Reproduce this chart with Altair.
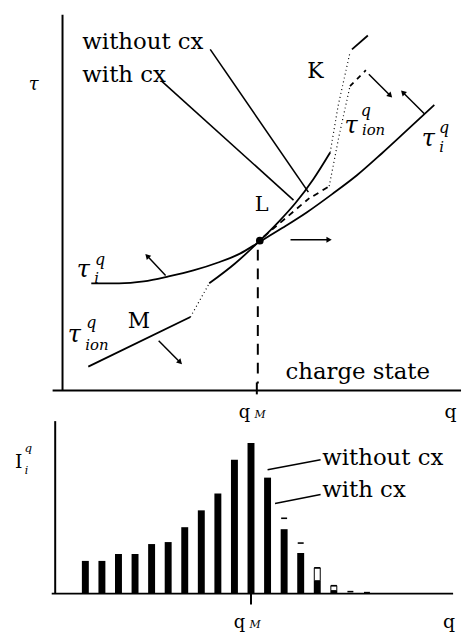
import altair as alt
import pandas as pd
import numpy as np

FONT = "DejaVu Serif"

# ---------------- top panel: schematic (charge state -> right, tau -> up) ----------------
# axes of the schematic
axis_y_x = [63, 63];     axis_y_y = [8, 387]
axis_x_x = [53, 465];    axis_x_y = [387, 387]
tick_x = [259, 259];     tick_y = [379, 391]
qm_line_x = [260, 260];  qm_line_y = [245, 380]

# tau_i^q curve
tau_i_x = [92, 120, 145, 170, 195, 220, 242, 262, 285, 310, 335, 360, 385, 410, 438]
tau_i_y = [279, 279, 277, 272, 266, 258, 249, 237, 223, 207, 189, 170, 148, 125, 99]

# tau_ion^q with cx (solid pieces + dotted joins)
ion_M_x = [89, 192];    ion_M_y = [363, 313]
ion_cx_x = [211, 237, 262, 280, 298, 316, 333]
ion_cx_y = [279, 259, 236, 218, 198, 174, 147]
ion_K_x = [355, 371];   ion_K_y = [43, 29]
dot1_x = [192, 211];    dot1_y = [313, 279]
dot2_x = [333, 341, 353]; dot2_y = [147, 100, 46]

# tau_ion^q without cx (dashed pieces + dotted join)
wo1_x = [266, 312];     wo1_y = [232, 193]
wo2_x = [316, 332];     wo2_y = [191, 181]
wo3_x = [353, 369];     wo3_y = [80, 64]
dot3_x = [332, 342, 353]; dot3_y = [181, 130, 80]

# leader lines
lead_wo_x = [212, 311]; lead_wo_y = [43, 187]
lead_w_x = [163, 296];  lead_w_y = [75, 195]

# arrows (start -> end)
arr_x0 = [372, 428, 293, 167, 160]
arr_y0 = [68, 108, 235, 271, 337]
arr_x1 = [393, 407, 331, 149, 181]
arr_y1 = [89, 87, 235, 252, 358]

# point L
L_x = [262]; L_y = [236]

# ---------------- bottom panel: intensity distribution ----------------
q_states = list(range(1, 19))
with_cx = [33, 33, 40, 40, 50, 52, 67, 84, 101, 135, 152, 117, 65, 41, 13, 3, 0, 0]
without_cx = [33, 33, 40, 40, 50, 52, 67, 84, 101, 135, 152, 117, 76, 51, 26, 8, 2, 1]
q_M = 11

b_axis_y_q = [-0.82, -0.82]; b_axis_y_v = [0, 174]
b_axis_x_q = [-1.03, 23.2];  b_axis_x_v = [0, 0]
b_tick_q = [q_M, q_M];       b_tick_v = [0, -11]
b_lead_wo_q = [12.0, 15.2];  b_lead_wo_v = [125, 135]
b_lead_w_q = [12.45, 15.2];  b_lead_w_v = [91, 100]

# ---------------- encodings ----------------
TX = alt.X("x:Q", scale=alt.Scale(domain=[8, 465], nice=False, zero=False), axis=None)
TY = alt.Y("y:Q", scale=alt.Scale(domain=[8, 400], reverse=True, nice=False, zero=False), axis=None)
BXs = alt.Scale(domain=[-3.37, 23.38], nice=False, zero=False)
BYs = alt.Scale(domain=[-40, 187], nice=False, zero=False)


def tline(xs, ys, width=1.8, dash=None, interp="linear"):
    df = pd.DataFrame({"x": xs, "y": ys, "o": range(len(xs))})
    kw = dict(color="black", strokeWidth=width, interpolate=interp, strokeCap="butt")
    if dash:
        kw["strokeDash"] = dash
    return alt.Chart(df).mark_line(**kw).encode(x=TX, y=TY, order="o:Q")


def bline(qs, vs, width=1.8):
    df = pd.DataFrame({"q": qs, "v": vs, "o": range(len(qs))})
    return alt.Chart(df).mark_line(color="black", strokeWidth=width, strokeCap="butt").encode(
        x=alt.X("q:Q", scale=BXs, axis=None), y=alt.Y("v:Q", scale=BYs, axis=None), order="o:Q")


def ttext(label, x, y, size, italic=False, align="center"):
    df = pd.DataFrame({"x": [x], "y": [y], "t": [label]})
    kw = dict(font=FONT, fontSize=size, align=align, baseline="alphabetic", color="black")
    if italic:
        kw["fontStyle"] = "italic"
    return alt.Chart(df).mark_text(**kw).encode(x=TX, y=TY, text="t:N")


def btext(label, q, v, size, italic=False, align="center"):
    df = pd.DataFrame({"q": [q], "v": [v], "t": [label]})
    kw = dict(font=FONT, fontSize=size, align=align, baseline="alphabetic", color="black")
    if italic:
        kw["fontStyle"] = "italic"
    return alt.Chart(df).mark_text(**kw).encode(
        x=alt.X("q:Q", scale=BXs, axis=None), y=alt.Y("v:Q", scale=BYs, axis=None), text="t:N")


top_layers = [
    tline(axis_y_x, axis_y_y, 2),
    tline(axis_x_x, axis_x_y, 2),
    tline(tick_x, tick_y, 2),
    tline(qm_line_x, qm_line_y, 2, dash=[11, 8]),
    tline(tau_i_x, tau_i_y, 1.8, interp="monotone"),
    tline(ion_M_x, ion_M_y, 1.8),
    tline(ion_cx_x, ion_cx_y, 1.8, interp="monotone"),
    tline(ion_K_x, ion_K_y, 1.8),
    tline(dot1_x, dot1_y, 1.2, dash=[1, 3]),
    tline(dot2_x, dot2_y, 1.2, dash=[1, 3]),
    tline(dot3_x, dot3_y, 1.2, dash=[1, 3]),
    tline(wo1_x, wo1_y, 1.8, dash=[6, 5]),
    tline(wo2_x, wo2_y, 1.8, dash=[6, 5]),
    tline(wo3_x, wo3_y, 1.8, dash=[5, 5]),
    tline(lead_wo_x, lead_wo_y, 1.6),
    tline(lead_w_x, lead_w_y, 1.6),
]
for i in range(len(arr_x0)):
    top_layers.append(tline([arr_x0[i], arr_x1[i]], [arr_y0[i], arr_y1[i]], 1.5))

dx = np.array(arr_x1) - np.array(arr_x0)
dy = np.array(arr_y1) - np.array(arr_y0)
ang = (np.degrees(np.arctan2(dx, -dy)) + 360) % 360
heads = pd.DataFrame({"x": arr_x1, "y": arr_y1, "a": ang})
top_layers.append(alt.Chart(heads).mark_point(shape="triangle", filled=True, color="black",
                                              size=38, opacity=1).encode(
    x=TX, y=TY, angle=alt.Angle("a:Q", scale=None)))
top_layers.append(alt.Chart(pd.DataFrame({"x": L_x, "y": L_y})).mark_point(
    shape="circle", filled=True, color="black", size=60, opacity=1).encode(x=TX, y=TY))

top_layers += [
    ttext("without cx", 83, 43, 23, align="left"),
    ttext("with cx", 83, 76, 23, align="left"),
    ttext("K", 318, 72, 22),
    ttext("L", 264, 206, 21),
    ttext("M", 140, 324, 22),
    ttext("charge state", 288, 375, 23, align="left"),
    ttext("τ", 34, 84, 18, italic=True),
    # tau_ion^q upper right
    ttext("τ", 354, 127, 24, italic=True),
    ttext("q", 369, 110, 16, italic=True),
    ttext("ion", 365, 129, 15, italic=True, align="left"),
    # tau_i^q right
    ttext("τ", 432, 140, 24, italic=True),
    ttext("q", 448, 127, 16, italic=True),
    ttext("i", 443, 147, 15, italic=True, align="left"),
    # tau_i^q left
    ttext("τ", 84, 273, 24, italic=True),
    ttext("q", 101, 261, 16, italic=True),
    ttext("i", 95, 279, 15, italic=True, align="left"),
    # tau_ion^q lower left
    ttext("τ", 75, 338, 24, italic=True),
    ttext("q", 92, 324, 16, italic=True),
    ttext("ion", 86, 346, 15, italic=True, align="left"),
]

top = alt.layer(*top_layers).properties(width=457, height=392)

# bottom panel
bars = pd.DataFrame({"q": q_states, "w": with_cx, "wo": without_cx, "base": 0})
BXq = alt.X("q:Q", scale=BXs, axis=None)
bottom_layers = [
    bline(b_axis_y_q, b_axis_y_v, 2),
    bline(b_axis_x_q, b_axis_x_v, 2),
    bline(b_tick_q, b_tick_v, 2),
    alt.Chart(bars).transform_filter("datum.w > 0").mark_bar(size=7, color="black").encode(
        x=BXq, y=alt.Y("w:Q", scale=BYs, axis=None), y2="base:Q"),
    alt.Chart(bars).transform_filter("datum.q >= 15 && datum.wo > datum.w + 4").mark_bar(
        size=6, fill="white", fillOpacity=0, stroke="black", strokeWidth=1).encode(
        x=BXq, y=alt.Y("wo:Q", scale=BYs, axis=None), y2="w:Q"),
    alt.Chart(bars).transform_filter("datum.wo > datum.w").mark_tick(
        orient="horizontal", size=6, thickness=1.6, color="black", opacity=1).encode(
        x=BXq, y=alt.Y("wo:Q", scale=BYs, axis=None)),
    bline(b_lead_wo_q, b_lead_wo_v, 1.5),
    bline(b_lead_w_q, b_lead_w_v, 1.5),
    btext("without cx", 15.3, 130, 23, align="left"),
    btext("with cx", 15.3, 97, 23, align="left"),
    btext("I", -3.02, 127, 19),
    btext("q", -2.45, 143, 12, italic=True),
    btext("i", -2.55, 121, 11, italic=True),
    btext("q", 10.6, 177, 18),
    btext("M", 11.55, 177, 11, italic=True),
    btext("q", 23.05, 177, 19),
    btext("q", 10.3, -35, 18),
    btext("M", 11.25, -35, 11, italic=True),
    btext("q", 22.95, -35, 19),
]
bottom = alt.layer(*bottom_layers).properties(width=457, height=227)

chart = alt.vconcat(top, bottom, spacing=0).properties(
    padding=0, background="white").configure_view(stroke=None)

chart.save("out.html", embed_options={"renderer": "svg", "actions": False})
